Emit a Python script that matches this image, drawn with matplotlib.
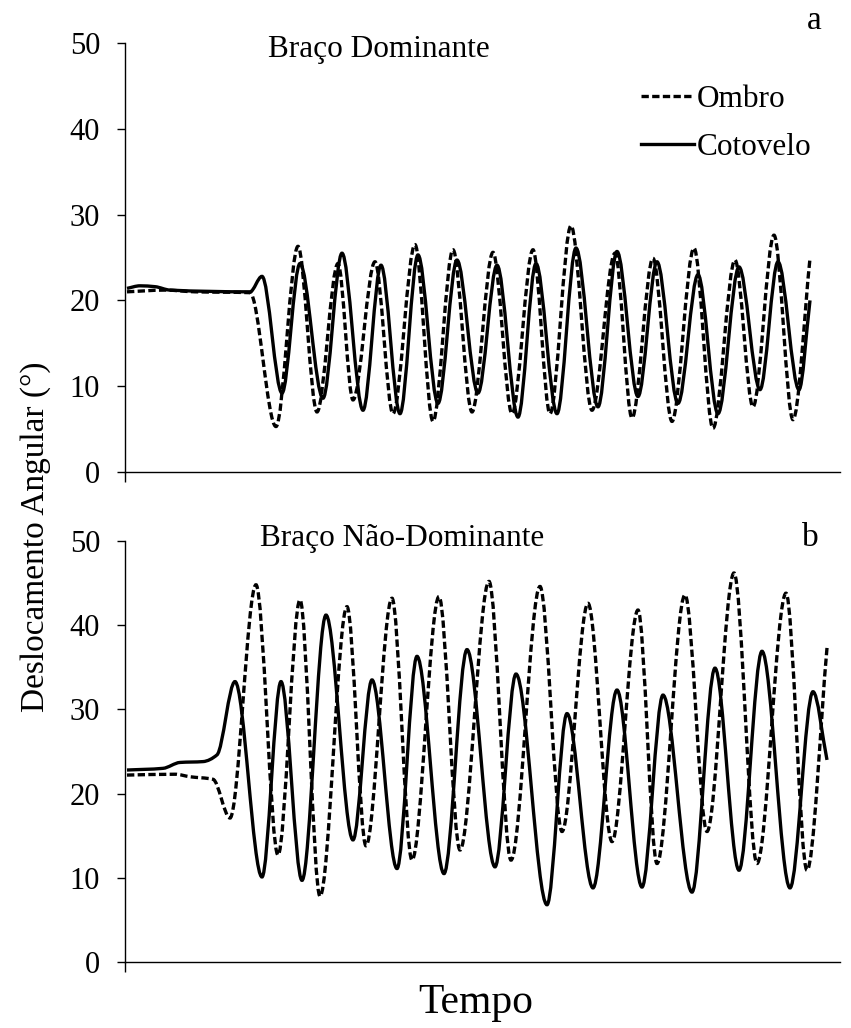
import numpy as np
import matplotlib
matplotlib.use("Agg")
import matplotlib.pyplot as plt
from matplotlib.path import Path
from matplotlib.patches import PathPatch
from matplotlib.lines import Line2D

plt.rcParams['font.family'] = ['Liberation Serif', 'DejaVu Serif']

# tempo (amostras) e deslocamento angular (graus) nos picos/vales de cada curva
t_ombro_dom = [2, 40, 70, 125, 151, 173, 192, 213, 228, 250, 268, 290, 308, 328, 347,
               368, 387, 408, 425, 446, 467, 490, 507, 528, 547, 569, 588, 610, 628,
               649, 668, 685]
y_ombro_dom = [21.0, 21.2, 21.0, 20.9, 5.3, 26.3, 7.0, 24.3, 8.4, 24.5, 6.8, 26.5, 5.9,
               25.9, 7.0, 25.6, 6.8, 25.9, 6.8, 28.7, 7.2, 25.5, 6.3, 24.9, 5.9, 26.1,
               5.1, 24.7, 7.6, 27.6, 6.1, 24.9]

t_cotov_dom = [2, 15, 30, 45, 125, 137, 157, 175, 198, 217, 238, 256, 275, 293, 313,
               332, 353, 372, 393, 411, 432, 451, 473, 492, 513, 532, 553, 573, 593,
               614, 635, 653, 674, 685]
y_cotov_dom = [21.4, 21.7, 21.6, 21.2, 21.0, 22.8, 9.2, 24.3, 8.6, 25.5, 7.2, 24.1, 6.8,
               25.3, 8.0, 24.7, 9.2, 24.1, 6.4, 24.3, 6.8, 26.1, 7.6, 25.7, 8.8, 24.5,
               8.0, 23.0, 6.8, 23.9, 9.6, 24.5, 9.6, 20.0]

t_ombro_ndom = [2, 50, 65, 88, 105, 131, 153, 175, 195, 222, 241, 267, 287, 314, 335,
                364, 386, 415, 437, 463, 487, 513, 532, 560, 582, 609, 632, 661, 682, 702]
y_ombro_ndom = [22.2, 22.3, 22.0, 21.7, 17.1, 44.8, 12.7, 43.0, 7.8, 42.2, 13.8, 43.2,
                12.1, 43.4, 13.3, 45.2, 12.1, 44.6, 15.5, 42.6, 14.3, 41.8, 11.7, 43.6,
                15.5, 46.2, 11.7, 43.8, 10.9, 37.3]

t_cotov_ndom = [2, 38, 55, 78, 92, 110, 137, 156, 177, 201, 228, 247, 272, 292, 319,
                342, 370, 391, 422, 442, 468, 492, 517, 538, 567, 590, 614, 637, 665,
                688, 702]
y_cotov_ndom = [22.8, 23.0, 23.7, 23.8, 24.6, 33.3, 10.1, 33.3, 9.7, 41.2, 14.5, 33.5,
                11.1, 36.3, 10.5, 37.1, 11.3, 34.2, 6.8, 29.5, 8.8, 32.3, 8.9, 31.7,
                8.3, 34.9, 10.9, 36.9, 8.8, 32.1, 24.0]

titulos = ['Braço Dominante', 'Braço Não-Dominante']
letras = ['a', 'b']
series = ['Ombro', 'Cotovelo']
yticks = [0, 10, 20, 30, 40, 50]

DASH = (0, (2.2, 1.0))
LW = 2.4
FS = 22.5


def pchip_slopes(x, y):
    # derivadas monotonas (Fritsch-Carlson) para curva suave sem overshoot
    x = np.asarray(x, float)
    y = np.asarray(y, float)
    h = np.diff(x)
    d = np.diff(y) / h
    m = np.zeros_like(y)
    m[0] = d[0]
    m[-1] = d[-1]
    for k in range(1, len(y) - 1):
        if d[k - 1] * d[k] > 0:
            w1 = 2 * h[k] + h[k - 1]
            w2 = h[k] + 2 * h[k - 1]
            m[k] = (w1 + w2) / (w1 / d[k - 1] + w2 / d[k])
    return m


def smooth_path(x, y):
    # curva de Bezier cubica passando pelos pontos lidos
    m = pchip_slopes(x, y)
    verts = [(x[0], y[0])]
    codes = [Path.MOVETO]
    for k in range(len(x) - 1):
        h = x[k + 1] - x[k]
        verts += [(x[k] + h / 3, y[k] + m[k] * h / 3),
                  (x[k + 1] - h / 3, y[k + 1] - m[k + 1] * h / 3),
                  (x[k + 1], y[k + 1])]
        codes += [Path.CURVE4] * 3
    return Path(verts, codes)


def draw_curve(ax, x, y, ls):
    p = PathPatch(smooth_path(x, y), fill=False, edgecolor='black', lw=LW,
                  linestyle=ls, transform=ax.transData, capstyle='butt')
    ax.add_patch(p)


W, H = 851, 1028
fig = plt.figure(figsize=(W / 100, H / 100), dpi=100)

ax_a = fig.add_axes([125 / W, 1 - 472 / H, 715 / W, 429 / H])
ax_b = fig.add_axes([125 / W, 1 - 962 / H, 715 / W, 421 / H])

dados = [(t_ombro_dom, y_ombro_dom, t_cotov_dom, y_cotov_dom),
         (t_ombro_ndom, y_ombro_ndom, t_cotov_ndom, y_cotov_ndom)]

for i, ax in enumerate([ax_a, ax_b]):
    to, yo, tc, yc = dados[i]
    draw_curve(ax, to, yo, DASH)
    draw_curve(ax, tc, yc, '-')

    ax.set_xlim(0, 715)
    ax.set_ylim(0, 50)
    ax.set_yticks(yticks)
    ax.set_xticks([0])
    ax.set_xticklabels([])
    for s in ['top', 'right']:
        ax.spines[s].set_visible(False)
    for s in ['left', 'bottom']:
        ax.spines[s].set_linewidth(1.0)
    ax.tick_params(axis='y', direction='out', length=6, width=1.0, labelsize=22, pad=12)
    ax.tick_params(axis='x', direction='out', length=7, width=1.0)

ax_a.text(0.2, 0.985, titulos[0], transform=ax_a.transAxes, fontsize=FS,
          ha='left', va='center')
ax_b.text(0.189, 1.007, titulos[1], transform=ax_b.transAxes, fontsize=FS,
          ha='left', va='center')

fig.text(814 / W, 1 - 21 / H, letras[0], fontsize=24, ha='center', va='center')
fig.text(810 / W, 1 - 538 / H, letras[1], fontsize=24, ha='center', va='center')

handles = [Line2D([], [], color='black', lw=LW, linestyle=DASH),
           Line2D([], [], color='black', lw=LW, linestyle='-')]
ax_a.legend(handles, series, loc='upper left', bbox_to_anchor=(641 / W, 1 - 85 / H),
            bbox_transform=fig.transFigure, frameon=False, fontsize=FS,
            handlelength=1.7, handletextpad=0.1, labelspacing=0.62,
            borderpad=0, borderaxespad=0)

fig.text(36 / W, 1 - 537 / H, 'Deslocamento Angular (°)', rotation=90,
         fontsize=24, ha='center', va='center')
fig.text(476 / W, 1 - 1003 / H, 'Tempo', fontsize=30, ha='center', va='center')

fig.savefig('out.png', dpi=100)
